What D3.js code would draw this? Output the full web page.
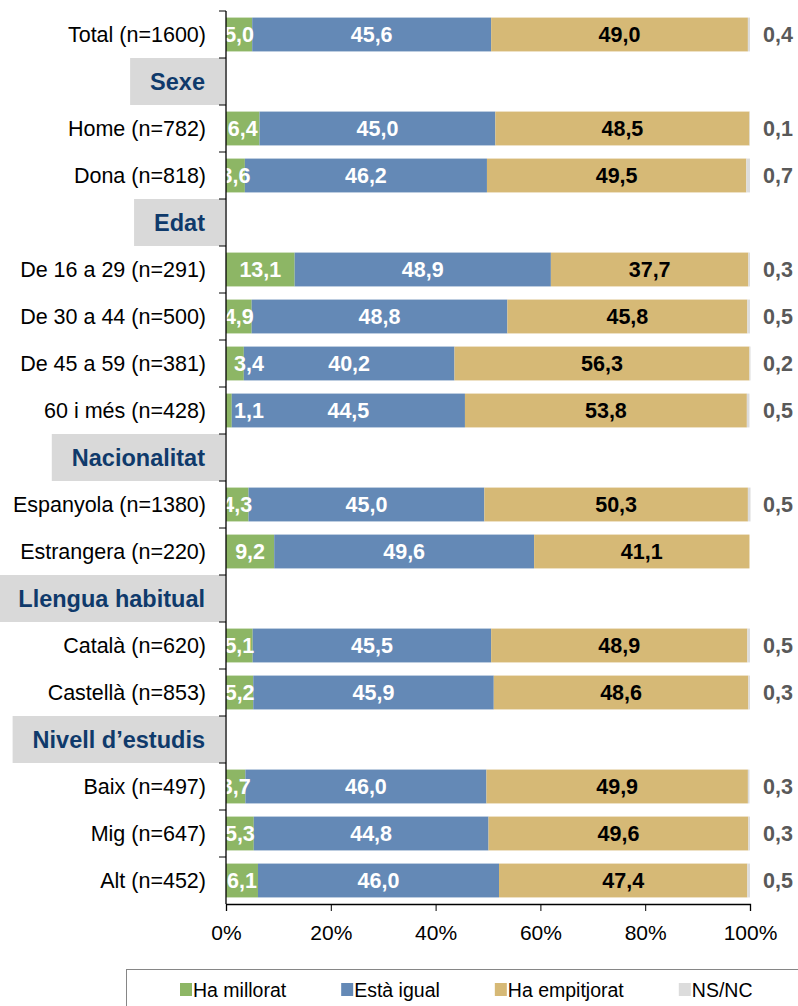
<!DOCTYPE html>
<html>
<head>
<meta charset="utf-8">
<script src="https://cdn.jsdelivr.net/npm/d3@7"></script>
<style>
  body { margin: 0; background: #fff; }
  svg text { font-family: "Liberation Sans", Arial, sans-serif; }
</style>
</head>
<body>
<div id="chart"></div>
<script>
// Row labels, top to bottom (group headers included)
const categories = [
  "Total (n=1600)", "Sexe", "Home (n=782)", "Dona (n=818)", "Edat",
  "De 16 a 29 (n=291)", "De 30 a 44 (n=500)", "De 45 a 59 (n=381)", "60 i més (n=428)",
  "Nacionalitat", "Espanyola (n=1380)", "Estrangera (n=220)", "Llengua habitual",
  "Català (n=620)", "Castellà (n=853)", "Nivell d’estudis",
  "Baix (n=497)", "Mig (n=647)", "Alt (n=452)"
];
const headers = ["Sexe", "Edat", "Nacionalitat", "Llengua habitual", "Nivell d’estudis"];

// Series values (null = header row)
const haMillorat   = [5.0, null, 6.4, 3.6, null, 13.1, 4.9, 3.4, 1.1, null, 4.3, 9.2, null, 5.1, 5.2, null, 3.7, 5.3, 6.1];
const estaIgual    = [45.6, null, 45.0, 46.2, null, 48.9, 48.8, 40.2, 44.5, null, 45.0, 49.6, null, 45.5, 45.9, null, 46.0, 44.8, 46.0];
const haEmpitjorat = [49.0, null, 48.5, 49.5, null, 37.7, 45.8, 56.3, 53.8, null, 50.3, 41.1, null, 48.9, 48.6, null, 49.9, 49.6, 47.4];
const nsnc         = [0.4, null, 0.1, 0.7, null, 0.3, 0.5, 0.2, 0.5, null, 0.5, 0.0, null, 0.5, 0.3, null, 0.3, 0.3, 0.5];

const seriesNames = ["Ha millorat", "Està igual", "Ha empitjorat", "NS/NC"];
const seriesColors = ["#8db665", "#6489b6", "#d6b976", "#dcdcdc"];
const xTicks = [0, 20, 40, 60, 80, 100];

const width = 798, height = 1006;
const margin = { top: 11, left: 226, right: 48, bottom: 102 };

const svg = d3.select("#chart").append("svg")
  .attr("width", width)
  .attr("height", height);

const x = d3.scaleLinear().domain([0, 100]).range([margin.left, width - margin.right]);
const y = d3.scaleBand().domain(categories)
  .range([margin.top, height - margin.bottom])
  .paddingInner(0.28).paddingOuter(0.14);

const fmt = d3.formatLocale({ decimal: ",", thousands: ".", grouping: [3], currency: ["", "€"] }).format(".1f");

// build rows for the stack
const rows = categories.map((c, i) => ({
  cat: c,
  s0: haMillorat[i], s1: estaIgual[i], s2: haEmpitjorat[i], s3: nsnc[i]
})).filter(d => d.s0 !== null);

const keys = ["s0", "s1", "s2", "s3"];
const stacked = d3.stack().keys(keys)(rows);

// header boxes behind group titles
const headerG = svg.append("g");
headers.forEach(h => {
  const g = headerG.append("g");
  const rect = g.append("rect");
  const t = g.append("text")
    .attr("x", 205)
    .attr("y", y(h) + y.bandwidth() / 2)
    .attr("dy", "0.36em")
    .attr("text-anchor", "end")
    .style("font-size", "23.5px")
    .style("font-weight", "bold")
    .style("fill", "#0f3a6b")
    .text(h);
  const w = t.node().getComputedTextLength();
  const step = y.step();
  const top = y(h) - (step - y.bandwidth()) / 2;
  rect.attr("x", 205 - w - 20)
    .attr("y", top)
    .attr("width", margin.left - 1 - (205 - w - 20))
    .attr("height", step)
    .style("fill", "#d9d9d9");
  t.raise();
});

// clip path for in-bar labels
svg.append("clipPath").attr("id", "plotClip")
  .append("rect")
  .attr("x", margin.left).attr("y", 0)
  .attr("width", x(100) - margin.left).attr("height", height);

// bars
const layer = svg.append("g").selectAll("g")
  .data(stacked)
  .enter().append("g")
  .style("fill", (d, i) => seriesColors[i]);

layer.selectAll("rect")
  .data(d => d)
  .enter().append("rect")
  .attr("x", d => x(d[0]))
  .attr("y", d => y(d.data.cat))
  .attr("width", d => x(d[1]) - x(d[0]))
  .attr("height", y.bandwidth());

// labels inside bars
const labelColors = ["#ffffff", "#ffffff", "#000000"];
const labelG = svg.append("g").attr("clip-path", "url(#plotClip)");
stacked.slice(0, 3).forEach((s, i) => {
  labelG.selectAll(null)
    .data(s)
    .enter().append("text")
    .attr("x", d => {
      const v = d[1] - d[0];
      // tiny segments: label pushed inside
      return v < 3.5 ? x(d[0]) + 8 : (x(d[0]) + x(d[1])) / 2;
    })
    .attr("y", d => y(d.data.cat) + y.bandwidth() / 2)
    .attr("dy", "0.36em")
    .attr("text-anchor", d => (d[1] - d[0]) < 3.5 ? "start" : "middle")
    .style("font-size", "21.5px")
    .style("font-weight", "bold")
    .style("fill", labelColors[i])
    .text(d => fmt(d[1] - d[0]));
});

// NS/NC labels outside
svg.append("g").selectAll("text")
  .data(rows.filter(d => d.s3 > 0))
  .enter().append("text")
  .attr("x", x(100) + 28)
  .attr("y", d => y(d.cat) + y.bandwidth() / 2)
  .attr("dy", "0.36em")
  .attr("text-anchor", "middle")
  .style("font-size", "21.5px")
  .style("font-weight", "bold")
  .style("fill", "#595959")
  .text(d => fmt(d.s3));

// category labels
svg.append("g").selectAll("text")
  .data(categories.filter(c => !headers.includes(c)))
  .enter().append("text")
  .attr("x", 206)
  .attr("y", d => y(d) + y.bandwidth() / 2)
  .attr("dy", "0.36em")
  .attr("text-anchor", "end")
  .style("font-size", "21.5px")
  .style("fill", "#000")
  .text(d => d);

// left axis: line + ticks at band boundaries
const yBottom = height - margin.bottom;
svg.append("line")
  .attr("x1", margin.left).attr("x2", margin.left)
  .attr("y1", margin.top).attr("y2", yBottom)
  .style("stroke", "#000").style("stroke-width", 1.3);
svg.append("g").selectAll("line")
  .data(d3.range(categories.length))
  .enter().append("line")
  .attr("x1", margin.left - 7).attr("x2", margin.left)
  .attr("y1", i => margin.top + i * y.step())
  .attr("y2", i => margin.top + i * y.step())
  .style("stroke", "#000").style("stroke-width", 1);

// bottom axis
const xAxis = svg.append("g")
  .attr("transform", `translate(0,${yBottom})`)
  .call(d3.axisBottom(x).tickValues(xTicks).tickSize(7).tickPadding(14).tickFormat(d => d + "%"));
xAxis.select(".domain").style("stroke", "#000").style("stroke-width", 1.3);
xAxis.selectAll(".tick line").style("stroke", "#000");
xAxis.selectAll(".tick text")
  .style("font-size", "21px")
  .style("font-family", "'Liberation Sans', Arial, sans-serif")
  .style("fill", "#000");

// legend
const legend = svg.append("g");
legend.append("rect")
  .attr("x", 126.5).attr("y", 969.5)
  .attr("width", 700).attr("height", 60)
  .style("fill", "#fff").style("stroke", "#868686");
let lx = 180;
seriesNames.forEach((name, i) => {
  legend.append("rect")
    .attr("x", lx).attr("y", 983)
    .attr("width", 12).attr("height", 13)
    .style("fill", seriesColors[i]);
  const t = legend.append("text")
    .attr("x", lx + 13).attr("y", 990)
    .attr("dy", "0.36em")
    .style("font-size", "19.5px")
    .style("fill", "#000")
    .text(name);
  lx += 13 + t.node().getComputedTextLength() + 55;
});
</script>
</body>
</html>
